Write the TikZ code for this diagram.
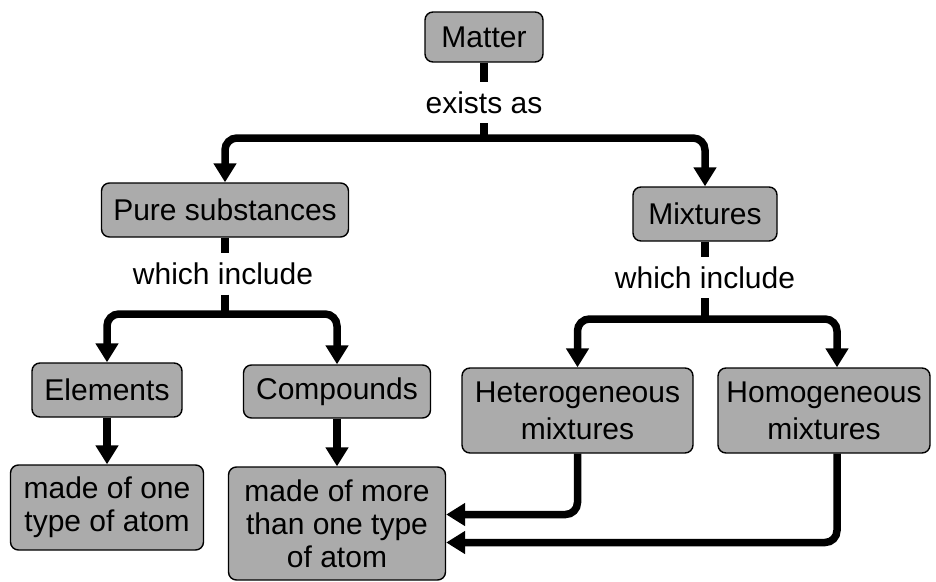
\documentclass[tikz,border=0pt]{standalone}
\usepackage{fontspec}
\setmainfont{Liberation Sans}
\usetikzlibrary{arrows.meta}
\begin{document}
\begin{tikzpicture}[x=1pt,y=-1pt,
  box/.style={draw=black, line width=1.4pt, fill=black!33, rounded corners=8pt,
    align=center, inner sep=0pt, font=\fontsize{30}{33}\selectfont},
  lbl/.style={inner sep=0pt, minimum height=41pt, font=\fontsize{30}{33}\selectfont},
  conn/.style={line width=7.5pt, rounded corners=12pt},
  arr/.style={conn, -{Triangle[width=22pt,length=19pt]}}]
\useasboundingbox (0,0) rectangle (936,581);
% boxes
\node[box, minimum width=118pt, minimum height=50pt] (matter) at (484,37) {Matter};
\node[box, minimum width=247pt, minimum height=54pt] (pure) at (225,210) {Pure substances};
\node[box, minimum width=144pt, minimum height=54pt] (mix) at (705,214) {Mixtures};
\node[box, minimum width=150pt, minimum height=54pt] (elem) at (107,390) {Elements};
\node[box, minimum width=187pt, minimum height=53pt] (comp) at (337,391.5) {Compounds};
\node[box, minimum width=231pt, minimum height=85pt, font=\fontsize{30}{37}\selectfont] (het) at (577.5,410.5) {Heterogeneous\\mixtures};
\node[box, minimum width=212pt, minimum height=85pt, font=\fontsize{30}{37}\selectfont] (hom) at (824,410.5) {Homogeneous\\mixtures};
\node[box, minimum width=193pt, minimum height=85pt] (one) at (107,507.5) {made of one\\type of atom};
\node[box, minimum width=217pt, minimum height=113pt] (more) at (337,523.5) {made of more\\than one type\\of atom};
% labels
\node[lbl] (exists) at (484,102.5) {exists as};
\node[lbl] (inc1) at (223,274) {which include};
\node[lbl] (inc2) at (705,277.5) {which include};
% junctions
\coordinate (j0) at (484,138);
\coordinate (j1) at (225,314);
\coordinate (j2) at (705,319);
% connectors
\draw[conn] (matter.south) -- (exists.north -| matter.south);
\draw[conn] (exists.south) -- ([yshift=-3pt]j0);
\draw[arr] (j0) -| (pure.north);
\draw[arr] (j0) -| (mix.north);
\draw[conn] (pure.south) -- (inc1.north -| pure.south);
\draw[conn] (inc1.south -| pure.south) -- ([yshift=-3pt]j1);
\draw[arr] (j1) -| (elem.north);
\draw[arr] (j1) -| (comp.north);
\draw[conn] (mix.south) -- (inc2.north);
\draw[conn] (inc2.south) -- ([yshift=-3pt]j2);
\draw[arr] (j2) -| (het.north);
\draw[arr] (j2) -| ([xshift=13pt]hom.north);
\draw[arr] (elem.south) -- (one.north);
\draw[arr] (comp.south) -- (more.north);
\draw[arr] (het.south) |- ([yshift=9pt]more.east);
\draw[arr] ([xshift=13pt]hom.south) |- ([yshift=-19pt]more.east);
\end{tikzpicture}
\end{document}
